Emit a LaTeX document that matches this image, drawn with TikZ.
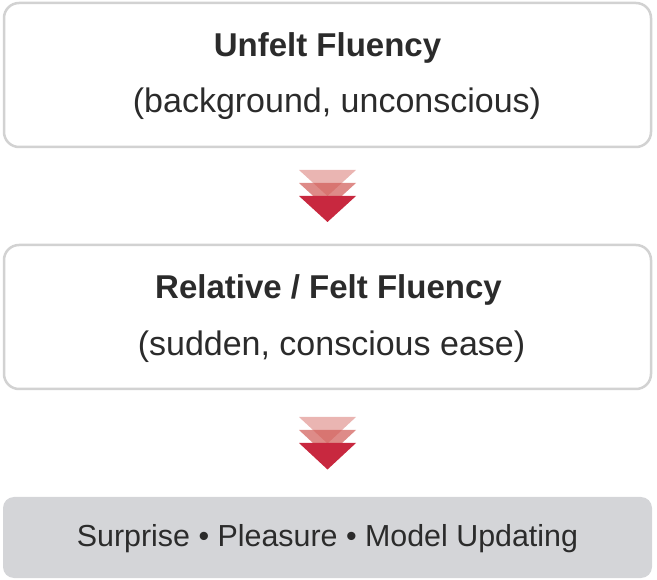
\documentclass[tikz,border=0pt]{standalone}
\usepackage{fontspec}
\setmainfont{Liberation Sans}
\definecolor{boxline}{HTML}{D2D2D2}
\definecolor{txt}{HTML}{2B2B2B}
\definecolor{resfill}{HTML}{D4D5D8}
\definecolor{crim}{HTML}{C8283F}
\definecolor{salmon}{HTML}{D05A55}
\tikzset{
  stagebox/.style={draw=boxline, line width=2.5pt, rounded corners=15pt, fill=white},
  resultbox/.style={fill=resfill, rounded corners=11pt},
  titletext/.style={text=txt, anchor=base, font=\fontsize{33}{38}\selectfont\bfseries},
  subtext/.style={text=txt, anchor=base, font=\fontsize{34}{39}\selectfont},
  restext/.style={text=txt, anchor=base, font=\fontsize{30.4}{35}\selectfont},
  trifront/.style={fill=crim},
  triback/.style={fill=salmon, opacity=0.45},
  trimid/.style={fill=salmon, opacity=0.7},
}
\begin{document}
\begin{tikzpicture}[x=1pt,y=-1pt]
\useasboundingbox (0,0) rectangle (657,580);
% boxes
\draw[stagebox] (4,3) rectangle (651,147);
\draw[stagebox] (4,245) rectangle (651,389);
\fill[resultbox] (3,497) rectangle (652,578);
% texts
\node[titletext] (t1) at (327.5,57) {Unfelt Fluency};
\node[subtext] (s1) at (337,113) {(background, unconscious)};
\node[titletext] (t2) at (328.5,299) {Relative / Felt Fluency};
\node[subtext] (s2) at (331.5,356) {(sudden, conscious ease)};
\node[restext] (r) at (327.5,547) {Surprise • Pleasure • Model Updating};
% arrows group 1
\fill[triback] (299,170) -- (356,170) -- (327.5,196) -- cycle;
\fill[trimid] (299,183) -- (356,183) -- (327.5,209) -- cycle;
\fill[trifront] (299,196) -- (356,196) -- (327.5,222) -- cycle;
% arrows group 2
\fill[triback] (299,417) -- (356,417) -- (327.5,443.5) -- cycle;
\fill[trimid] (299,430) -- (356,430) -- (327.5,456.5) -- cycle;
\fill[trifront] (299,443) -- (356,443) -- (327.5,469.5) -- cycle;
\end{tikzpicture}
\end{document}
